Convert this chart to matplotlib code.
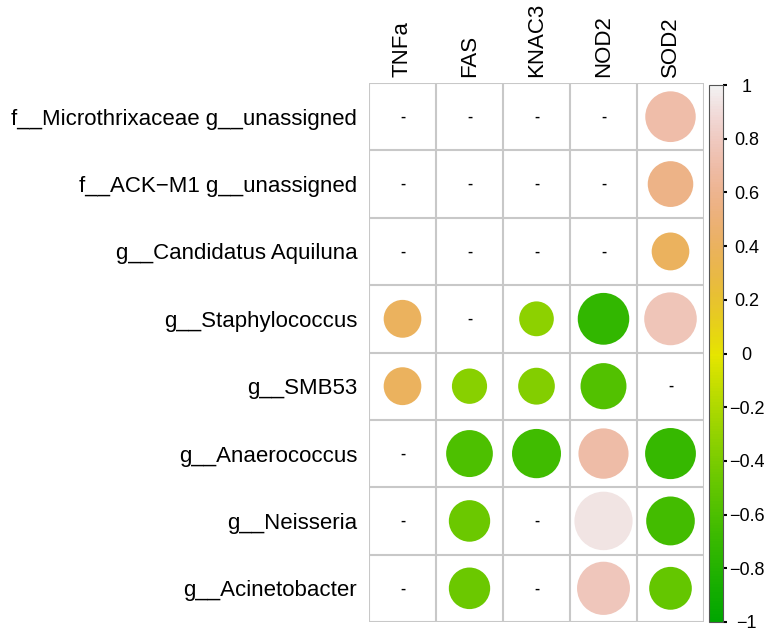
import numpy as np
import matplotlib
matplotlib.use("Agg")
import matplotlib.pyplot as plt
from matplotlib.colors import ListedColormap, Normalize, hsv_to_rgb
from matplotlib.patches import Circle
from matplotlib.cm import ScalarMappable

plt.rcParams['font.family'] = ['Liberation Sans', 'DejaVu Sans']

# Data
genes = ['TNFa', 'FAS', 'KNAC3', 'NOD2', 'SOD2']
taxa = ['f__Microthrixaceae g__unassigned', 'f__ACK\u2212M1 g__unassigned',
        'g__Candidatus Aquiluna', 'g__Staphylococcus', 'g__SMB53',
        'g__Anaerococcus', 'g__Neisseria', 'g__Acinetobacter']
na = np.nan
tnfa = [na, na, na, 0.39, 0.39, na, na, na]
fas = [na, na, na, na, -0.34, -0.60, -0.47, -0.47]
knac3 = [na, na, na, -0.33, -0.37, -0.66, na, na]
nod2 = [na, na, na, -0.73, -0.58, 0.69, 0.93, 0.77]
sod2 = [0.70, 0.57, 0.39, 0.76, na, -0.71, -0.65, -0.50]
corr = np.array([tnfa, fas, knac3, nod2, sod2]).T
cb_ticks = [-1, -0.8, -0.6, -0.4, -0.2, 0, 0.2, 0.4, 0.6, 0.8, 1]
cb_labels = ['\u22121', '\u22120.8', '\u22120.6', '\u22120.4', '\u22120.2',
             '0', '0.2', '0.4', '0.6', '0.8', '1']

# terrain.colors-like palette (R)
n = 200
k = n // 2
h1 = np.linspace(4/12, 2/12, k)
v1 = np.linspace(0.65, 0.9, k)
h2 = np.linspace(2/12, 0, n - k + 1)[1:]
s2 = np.linspace(1, 0, n - k + 1)[1:]
v2 = np.linspace(0.9, 0.95, n - k + 1)[1:]
hsv = np.vstack([np.column_stack([h1, np.ones(k), v1]),
                 np.column_stack([h2, s2, v2])])
cmap = ListedColormap(hsv_to_rgb(hsv))
norm = Normalize(-1, 1)

fig = plt.figure(figsize=(7.65, 6.31), dpi=100)
ax = fig.add_axes([369/765, 9/631, 335/765, 539/631])
nr, nc = corr.shape
ax.set_xlim(0, nc)
ax.set_ylim(nr, 0)

for i in range(nr):
    for j in range(nc):
        r = corr[i, j]
        if np.isnan(r):
            ax.text(j + 0.5, i + 0.5, '-', ha='center', va='center', fontsize=11, fontweight='bold')
        else:
            ax.add_patch(Circle((j + 0.5, i + 0.5), 0.45 * np.sqrt(abs(r)),
                                facecolor=cmap(norm(r)), edgecolor='none'))

for x in range(nc + 1):
    ax.axvline(x, color='#c8c8c8', lw=1.5)
for y in range(nr + 1):
    ax.axhline(y, color='#c8c8c8', lw=1.5)
for s in ax.spines.values():
    s.set_visible(False)

ax.set_xticks(np.arange(nc) + 0.5)
ax.set_xticklabels(genes, rotation=90, fontsize=16)
ax.xaxis.tick_top()
ax.set_yticks(np.arange(nr) + 0.5)
ax.set_yticklabels(taxa, fontsize=16)
ax.tick_params(axis='y', length=0, pad=8.5)
ax.tick_params(axis='x', length=0, pad=4.5)

cax = fig.add_axes([709/765, 9/631, 14/765, 537/631])
cb = fig.colorbar(ScalarMappable(norm=norm, cmap=cmap), cax=cax)
cb.set_ticks(cb_ticks)
cb.ax.set_yticklabels(cb_labels)
cb.ax.tick_params(labelsize=13, length=3, width=1.5, pad=14)
for t in cb.ax.get_yticklabels():
    t.set_horizontalalignment('center')
cb.outline.set_edgecolor('#555555')

fig.savefig('out.png', dpi=100)
